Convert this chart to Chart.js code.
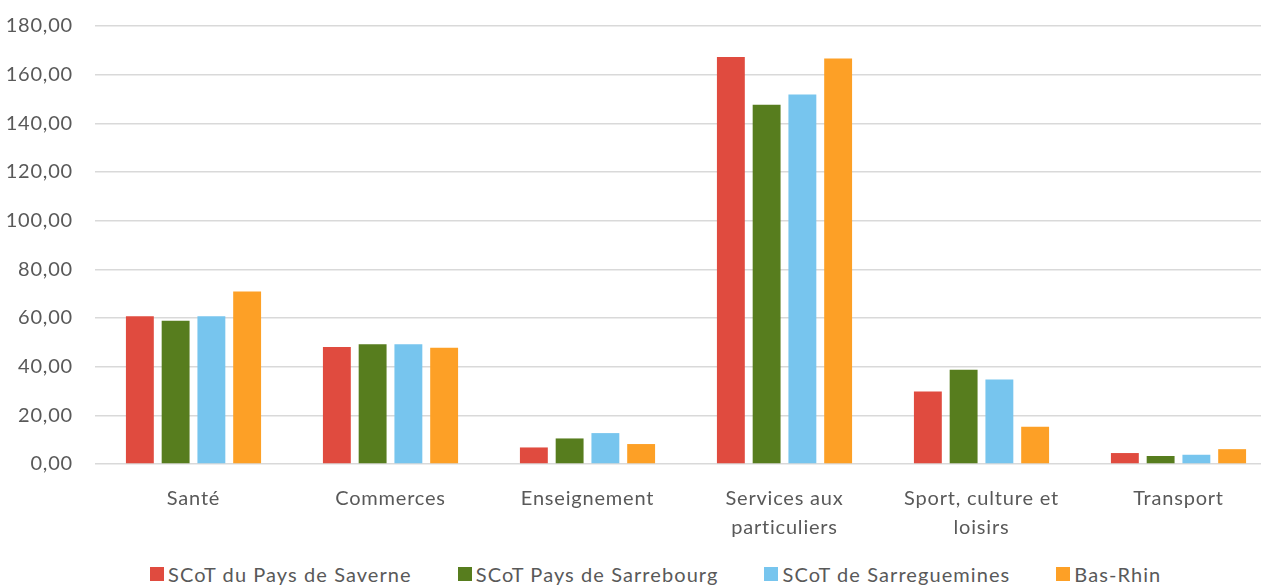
<!DOCTYPE html>
<html>
<head>
<meta charset="utf-8">
<script src="https://cdn.jsdelivr.net/npm/chart.js@4.4.1/dist/chart.umd.min.js"></script>
<style>
  html, body { margin: 0; padding: 0; background: #fff; overflow: hidden; }
  #wrap { position: relative; width: 1277px; height: 555px; }
  #graphic { position: absolute; top: -8px; left: 0; }
  #legend {
    position: absolute; top: 562px; left: 150px;
    display: flex; font-family: Lato, sans-serif; font-size: 20px; color: #595959;
    letter-spacing: 1.08px;
  }
  .item { display: flex; align-items: center; margin-right: 46px; white-space: nowrap; }
  .box { width: 14px; height: 14px; margin-right: 4px; }
</style>
</head>
<body>
<div id="wrap"><canvas id="graphic"></canvas></div>
<div id="legend"></div>
<script>
const categories = ['Santé', 'Commerces', 'Enseignement', ['Services aux', 'particuliers'], ['Sport, culture et', 'loisirs'], 'Transport'];
const seriesNames = ['SCoT du Pays de Saverne', 'SCoT Pays de Sarrebourg', 'SCoT de Sarreguemines', 'Bas-Rhin'];
const saverne = [60.7, 48.1, 6.8, 167.3, 29.8, 4.5];
const sarrebourg = [58.9, 49.2, 10.5, 147.6, 38.7, 3.3];
const sarreguemines = [60.7, 49.2, 12.7, 151.8, 34.7, 3.8];
const basRhin = [70.9, 47.8, 8.2, 166.6, 15.3, 6.1];
const colors = ['#E04B3F', '#577D1E', '#77C5EE', '#FDA026'];

const values = [saverne, sarrebourg, sarreguemines, basRhin];

const data = {
  labels: categories,
  datasets: seriesNames.map((name, i) => ({
    label: name,
    data: values[i],
    backgroundColor: colors[i],
    categoryPercentage: 0.726,
    barPercentage: 0.78
  }))
};

const font = { family: 'Lato, sans-serif', size: 20 };

// texte un peu plus espace, comme dans l'original
const spacing = {
  id: 'spacing',
  beforeDraw: chart => { chart.ctx.letterSpacing = '0.8px'; }
};

const config = {
  type: 'bar',
  data: data,
  plugins: [spacing],
  options: {
    responsive: false,
    animation: false,
    layout: { padding: { top: 17, right: 0, bottom: 0, left: 0 } },
    plugins: {
      legend: { display: false },
      tooltip: { enabled: false }
    },
    scales: {
      x: {
        grid: { display: false },
        border: { display: false },
        ticks: { color: '#595959', font: { ...font, lineHeight: 1.45 }, padding: 12, maxRotation: 0, autoSkip: false },
        afterFit: s => { s.height = 91; }
      },
      y: {
        min: 0, max: 180,
        grid: { color: '#d9d9d9', lineWidth: 1.5, drawTicks: false },
        border: { display: false },
        ticks: {
          stepSize: 20, color: '#595959', font: font, padding: 22,
          callback: v => v.toFixed(2).replace('.', ',')
        },
        afterFit: s => { s.width = 95; }
      }
    }
  }
};

const canvas = document.querySelector('#graphic');
canvas.width = 1277;
canvas.height = 563;
new Chart(canvas, config);

document.querySelector('#legend').innerHTML = seriesNames
  .map((n, i) => `<div class="item"><span class="box" style="background:${colors[i]}"></span>${n}</div>`)
  .join('');
</script>
</body>
</html>
